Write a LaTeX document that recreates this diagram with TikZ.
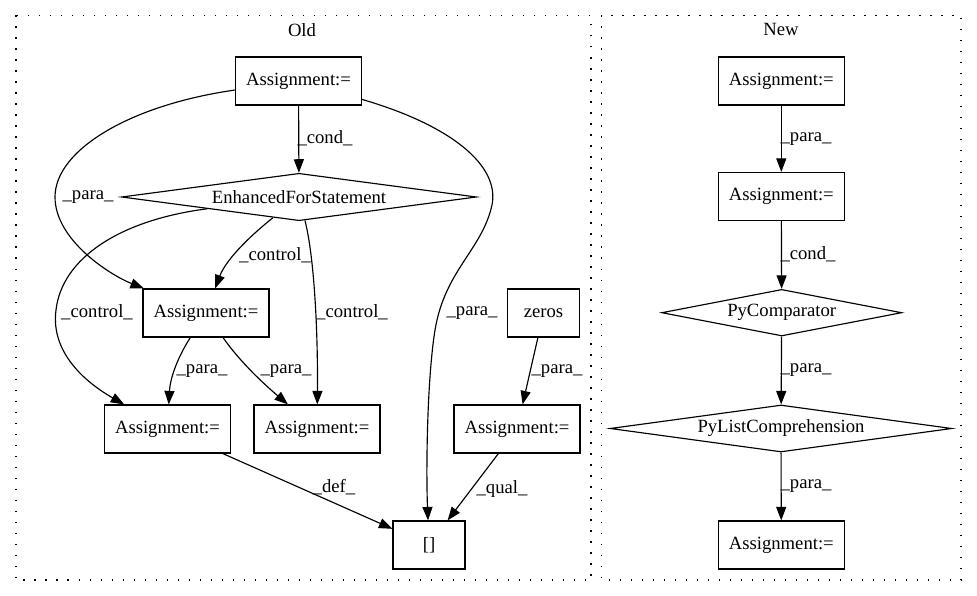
\documentclass[tikz,border=0pt]{standalone}
\usepackage{fontspec}
\setmainfont{Liberation Serif}
\usetikzlibrary{arrows.meta,shapes.geometric}
\begin{document}
\begin{tikzpicture}[x=1pt,y=-1pt,
  every node/.style={font=\fontsize{18.67}{22}\selectfont},
  box/.style={draw,line width=1.15pt,rectangle,minimum height=48pt,inner sep=0pt},
  abox/.style={box,minimum width=126pt},
  sbox/.style={box,minimum width=72pt},
  dia/.style={draw,line width=1.15pt,diamond,inner sep=0pt,shape aspect=7},
  edge/.style={line width=1.15pt,-{Triangle[length=13.5pt,width=10pt]}},
  lbl/.style={inner sep=0pt},
  cluster/.style={line width=1.3pt,dash pattern=on 1.4pt off 9.6pt}
]
\useasboundingbox[fill=white] (0,0) rectangle (977,596);
% clusters
\draw[cluster] (16,15.5) rectangle (591,580);
\draw[cluster] (601.5,15.5) rectangle (961,580);
\node[lbl] (oldt) at (302,30) {Old};
\node[lbl] (newt) at (781,29) {New};

% Old nodes
\node[abox] (A1) at (298.5,81) {Assignment:=};
\node[dia,minimum width=355pt,minimum height=47.4pt] (EFS) at (299,197) {EnhancedForStatement};
\node[abox] (A2) at (206,313) {Assignment:=};
\node[sbox] (Z) at (543.5,313) {zeros};
\node[abox] (A3) at (167.5,429) {Assignment:=};
\node[abox] (A4) at (317,429) {Assignment:=};
\node[abox] (A5) at (517,429) {Assignment:=};
\node[sbox] (B) at (429,545) {[]};

% Old edges
\draw[edge] (A1) -- (EFS);
\draw[edge] (A1) .. controls (130,105) and (55,150) .. (55,197) .. controls (55,240) and (110,275) .. (A2);
\draw[edge] (A1) .. controls (450,125) and (500,165) .. (492,205) .. controls (482,250) and (445,270) .. (435,330) .. controls (427,380) and (426,470) .. (B);
\draw[edge] (EFS) .. controls (245,240) and (225,262) .. (A2);
\draw[edge] (EFS) .. controls (315,260) and (318,340) .. (A4);
\draw[edge] (EFS) .. controls (120,220) and (62,258) .. (56,310) .. controls (50,355) and (90,385) .. (A3);
\draw[edge] (A2) .. controls (176,360) and (170,380) .. (A3);
\draw[edge] (A2) .. controls (240,362) and (265,385) .. (A4);
\draw[edge] (Z) -- (A5);
\draw[edge] (A3) -- (B);
\draw[edge] (A5) -- (B);

% Old labels
\node[lbl] (l1) at (325,138) {\_cond\_};
\node[lbl] (l2) at (88,197) {\_para\_};
\node[lbl] (l3) at (275,255) {\_control\_};
\node[lbl] (l4) at (97,312) {\_control\_};
\node[lbl] (l5) at (352,312) {\_control\_};
\node[lbl] (l6) at (472,313) {\_para\_};
\node[lbl] (l7) at (557,371) {\_para\_};
\node[lbl] (l8) at (202,371) {\_para\_};
\node[lbl] (l9) at (286,371) {\_para\_};
\node[lbl] (l10) at (334,487) {\_def\_};
\node[lbl] (l11) at (502,489) {\_qual\_};

% New nodes
\node[abox] (N1) at (781.3,81) {Assignment:=};
\node[abox] (N2) at (781.3,196.5) {Assignment:=};
\node[dia,minimum width=240pt,minimum height=46.6pt,shape aspect=5] (PC) at (781.7,312.7) {PyComparator};
\node[dia,minimum width=341.7pt,minimum height=47pt] (PL) at (781,428.5) {PyListComprehension};
\node[abox] (N3) at (781.3,545) {Assignment:=};

\draw[edge] (N1) -- (N2);
\draw[edge] (N2) -- (PC);
\draw[edge] (PC) -- (PL);
\draw[edge] (PL) -- (N3);

\node[lbl] (m1) at (806,139) {\_para\_};
\node[lbl] (m2) at (808,254) {\_cond\_};
\node[lbl] (m3) at (806,370) {\_para\_};
\node[lbl] (m4) at (806,486) {\_para\_};
\end{tikzpicture}
\end{document}
